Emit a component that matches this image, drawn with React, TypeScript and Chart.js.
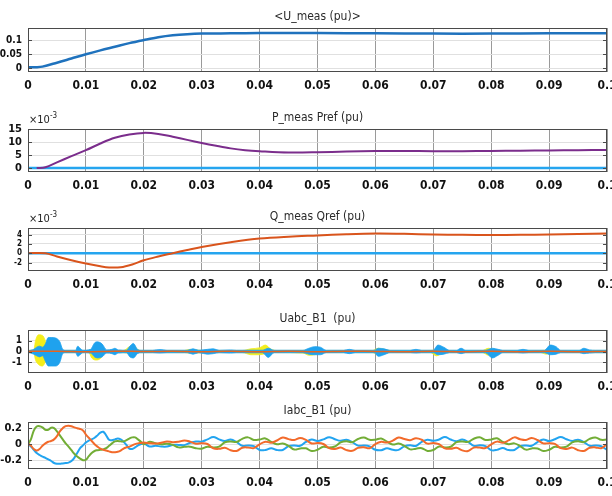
import React, { useEffect, useRef } from "react";
import { Chart, registerables } from "chart.js";

Chart.register(...registerables);

const FONT = "'Liberation Sans Narrow', 'Arial Narrow', 'DejaVu Sans Condensed', sans-serif";

// ---- shared x axis ----
const xTicks = [0, 0.01, 0.02, 0.03, 0.04, 0.05, 0.06, 0.07, 0.08, 0.09, 0.1];
const xTickLabels = ["0", "0.01", "0.02", "0.03", "0.04", "0.05", "0.06", "0.07", "0.08", "0.09", "0.1"];

// ---- panel 1: <U_meas (pu)> ----
const tU = [0, 0.0015, 0.0025, 0.005, 0.0075, 0.01, 0.0125, 0.015, 0.0175, 0.02, 0.0225, 0.025, 0.0275, 0.03, 0.035, 0.04, 0.05, 0.06, 0.07, 0.08, 0.09, 0.1];
const uMeas = [0.003, 0.003, 0.005, 0.019, 0.034, 0.049, 0.063, 0.076, 0.089, 0.1, 0.11, 0.117, 0.121, 0.123, 0.124, 0.125, 0.125, 0.124, 0.123, 0.123, 0.124, 0.124];
const y1Ticks = [0, 0.05, 0.1];
const y1Labels = ["0", "0.05", "0.1"];

// ---- panel 2: P_meas Pref (pu), x10^-3 ----
const tP = [0.0015, 0.003, 0.005, 0.0075, 0.01, 0.0125, 0.015, 0.0175, 0.02, 0.0225, 0.025, 0.0275, 0.03, 0.0325, 0.035, 0.0375, 0.04, 0.045, 0.05, 0.055, 0.06, 0.065, 0.07, 0.075, 0.08, 0.085, 0.09, 0.095, 0.1];
const pMeas = [0, 0.3, 2.2, 4.6, 6.9, 9.5, 11.7, 13.0, 13.6, 13.2, 12.1, 10.9, 9.7, 8.6, 7.6, 6.9, 6.5, 6.0, 6.1, 6.4, 6.6, 6.6, 6.5, 6.5, 6.6, 6.7, 6.8, 6.9, 7.0];
const tRef = [0, 0.1];
const pRef = [0, 0];
const y2Ticks = [0, 5, 10, 15];
const y2Labels = ["0", "5", "10", "15"];

// ---- panel 3: Q_meas Qref (pu), x10^-3 ----
const tQ = [0, 0.003, 0.005, 0.0075, 0.01, 0.0125, 0.014, 0.016, 0.018, 0.02, 0.0225, 0.025, 0.0275, 0.03, 0.035, 0.04, 0.045, 0.05, 0.055, 0.06, 0.065, 0.07, 0.075, 0.08, 0.085, 0.09, 0.095, 0.1];
const qMeas = [0, 0, -0.7, -1.5, -2.2, -2.8, -3.05, -3.0, -2.4, -1.5, -0.7, 0, 0.7, 1.35, 2.35, 3.15, 3.55, 3.8, 4.05, 4.2, 4.15, 4.0, 3.95, 3.9, 3.95, 4.0, 4.1, 4.25];
const qRef = [0, 0];
const y3Ticks = [-2, 0, 2, 4];
const y3Labels = ["-2", "0", "2", "4"];

// ---- panel 4: Uabc_B1 (pu) : envelopes of fast oscillations ----
const tYel = [0, 0.001, 0.0013, 0.0018, 0.0025, 0.003, 0.0035, 0.004, 0.0045, 0.005, 0.0055, 0.0105, 0.011, 0.0118, 0.0126, 0.0132, 0.0165, 0.0175, 0.0182, 0.0189, 0.0195, 0.027, 0.028, 0.029, 0.03, 0.037, 0.0385, 0.04, 0.041, 0.042, 0.043, 0.0475, 0.0485, 0.0495, 0.0505, 0.0595, 0.0605, 0.0615, 0.0625, 0.0695, 0.0705, 0.0715, 0.0725, 0.0785, 0.0795, 0.0805, 0.0815, 0.0885, 0.0895, 0.0905, 0.1];
const yelUp = [0.1, 0.15, 1.0, 1.55, 1.5, 1.0, 0.3, 0.3, 0.2, 0.12, 0.1, 0.1, 0.2, 0.25, 0.15, 0.1, 0.1, 0.45, 0.6, 0.2, 0.1, 0.1, 0.2, 0.15, 0.1, 0.1, 0.25, 0.35, 0.6, 0.2, 0.1, 0.1, 0.15, 0.12, 0.1, 0.1, 0.3, 0.2, 0.1, 0.1, 0.15, 0.12, 0.1, 0.1, 0.3, 0.15, 0.1, 0.1, 0.12, 0.1, 0.1];
const yelLo = [-0.1, -0.15, -0.8, -1.2, -1.35, -1.0, -0.6, -1.1, -0.9, -0.3, -0.1, -0.1, -0.6, -0.8, -0.6, -0.1, -0.1, -0.2, -0.25, -0.1, -0.1, -0.1, -0.15, -0.15, -0.1, -0.1, -0.3, -0.3, -0.2, -0.1, -0.1, -0.15, -0.35, -0.3, -0.1, -0.1, -0.3, -0.2, -0.1, -0.1, -0.4, -0.2, -0.1, -0.1, -0.35, -0.2, -0.1, -0.1, -0.25, -0.1, -0.1];

const tBlu = [0, 0.001, 0.0015, 0.002, 0.0025, 0.003, 0.0035, 0.004, 0.0048, 0.0055, 0.006, 0.0065, 0.0082, 0.0086, 0.009, 0.0095, 0.0108, 0.0115, 0.012, 0.0128, 0.0136, 0.0145, 0.015, 0.0156, 0.017, 0.0176, 0.0182, 0.0189, 0.0195, 0.0215, 0.0228, 0.024, 0.0275, 0.0285, 0.0295, 0.031, 0.032, 0.033, 0.035, 0.036, 0.0405, 0.0415, 0.0425, 0.0475, 0.0485, 0.0495, 0.0505, 0.0515, 0.0545, 0.0555, 0.0565, 0.0598, 0.0605, 0.0615, 0.0625, 0.066, 0.067, 0.068, 0.07, 0.0708, 0.0718, 0.0728, 0.074, 0.0748, 0.0756, 0.079, 0.0802, 0.0812, 0.082, 0.0845, 0.0855, 0.0865, 0.0892, 0.0902, 0.0912, 0.092, 0.0952, 0.096, 0.097, 0.098, 0.1];
const bluUp = [0.08, 0.2, 0.4, 0.5, 0.4, 0.7, 1.3, 1.3, 1.25, 0.9, 0.2, 0.12, 0.12, 0.5, 0.3, 0.12, 0.2, 0.8, 0.9, 0.7, 0.15, 0.2, 0.3, 0.15, 0.12, 0.5, 0.75, 0.2, 0.12, 0.12, 0.18, 0.12, 0.12, 0.25, 0.12, 0.2, 0.25, 0.12, 0.15, 0.12, 0.12, 0.3, 0.12, 0.12, 0.3, 0.45, 0.4, 0.12, 0.12, 0.2, 0.12, 0.12, 0.3, 0.25, 0.12, 0.12, 0.2, 0.12, 0.12, 0.6, 0.4, 0.12, 0.12, 0.3, 0.12, 0.12, 0.3, 0.2, 0.12, 0.12, 0.2, 0.12, 0.12, 0.6, 0.45, 0.12, 0.12, 0.3, 0.15, 0.12, 0.12];
const bluLo = [-0.08, -0.25, -0.4, -0.5, -0.4, -0.9, -1.35, -1.35, -1.35, -1.0, -0.2, -0.12, -0.12, -0.45, -0.3, -0.12, -0.15, -0.5, -0.6, -0.5, -0.15, -0.2, -0.3, -0.15, -0.12, -0.5, -0.6, -0.2, -0.12, -0.12, -0.15, -0.12, -0.12, -0.25, -0.12, -0.25, -0.2, -0.12, -0.15, -0.12, -0.12, -0.55, -0.12, -0.12, -0.25, -0.3, -0.3, -0.12, -0.12, -0.2, -0.12, -0.12, -0.45, -0.3, -0.12, -0.12, -0.15, -0.12, -0.12, -0.3, -0.25, -0.12, -0.12, -0.2, -0.12, -0.12, -0.6, -0.35, -0.12, -0.12, -0.15, -0.12, -0.12, -0.3, -0.25, -0.12, -0.12, -0.2, -0.15, -0.12, -0.12];

const tOra = [0, 0.005, 0.01, 0.015, 0.02, 0.025, 0.03, 0.035, 0.04, 0.045, 0.05, 0.055, 0.06, 0.065, 0.07, 0.075, 0.08, 0.085, 0.09, 0.095, 0.1];
const oraV = [0.02, 0.03, -0.02, 0.03, 0.0, 0.02, -0.02, 0.02, -0.03, 0.02, -0.02, 0.03, 0.0, -0.02, 0.03, -0.02, 0.02, -0.03, 0.02, -0.02, 0.01];
const y4Ticks = [-1, 0, 1];
const y4Labels = ["-1", "0", "1"];

// ---- panel 5: Iabc_B1 (pu) ----
const tI = [0, 0.0005, 0.001, 0.0015, 0.002, 0.0025, 0.003, 0.0035, 0.004, 0.0045, 0.005, 0.0055, 0.006, 0.0065, 0.007, 0.0075, 0.008, 0.0085, 0.009, 0.0095, 0.01, 0.0105, 0.011, 0.0115, 0.012, 0.0125, 0.013, 0.0135, 0.014, 0.0145, 0.015, 0.0155, 0.016, 0.0165, 0.017, 0.0175, 0.018, 0.0185, 0.019, 0.0195, 0.02,
  0.021, 0.022, 0.023, 0.024, 0.025, 0.026, 0.027, 0.028, 0.029, 0.03, 0.031, 0.032, 0.033, 0.034, 0.035, 0.036, 0.037, 0.038, 0.039, 0.04,
  0.041, 0.042, 0.043, 0.044, 0.045, 0.046, 0.047, 0.048, 0.049, 0.05, 0.051, 0.052, 0.053, 0.054, 0.055, 0.056, 0.057, 0.058, 0.059, 0.06,
  0.061, 0.062, 0.063, 0.064, 0.065, 0.066, 0.067, 0.068, 0.069, 0.07, 0.071, 0.072, 0.073, 0.074, 0.075, 0.076, 0.077, 0.078, 0.079, 0.08,
  0.081, 0.082, 0.083, 0.084, 0.085, 0.086, 0.087, 0.088, 0.089, 0.09, 0.091, 0.092, 0.093, 0.094, 0.095, 0.096, 0.097, 0.098, 0.099, 0.1];
const iBlue = [0.0, -0.03, -0.07, -0.11, -0.135, -0.155, -0.17, -0.19, -0.21, -0.235, -0.245, -0.245, -0.24, -0.235, -0.23, -0.21, -0.17, -0.11, -0.05, -0.015, 0.02, 0.045, 0.06, 0.08, 0.11, 0.145, 0.155, 0.11, 0.055, 0.05, 0.06, 0.07, 0.06, 0.03, -0.01, -0.055, -0.06, -0.04, -0.015, 0.0, 0.01,
  -0.029, -0.02, -0.029, -0.029, -0.01, -0.009, -0.012, 0.017, 0.034, 0.032, 0.06,
  0.09, 0.06, 0.04, 0.057, 0.028, -0.02, -0.015, -0.025, -0.073, -0.073, -0.05, -0.073, -0.073, -0.025, -0.015, -0.02, 0.028, 0.057, 0.04, 0.06,
  0.088, 0.062, 0.042, 0.055, 0.025, -0.018, -0.017, -0.028, -0.07, -0.075, -0.052, -0.07, -0.071, -0.027, -0.013, -0.022, 0.03, 0.055, 0.042, 0.058,
  0.091, 0.058, 0.038, 0.058, 0.03, -0.021, -0.014, -0.024, -0.074, -0.071, -0.048, -0.074, -0.072, -0.024, -0.016, -0.019, 0.027, 0.058, 0.039, 0.061,
  0.089, 0.061, 0.041, 0.056, 0.027, -0.019, -0.016, -0.026, -0.072];
const iGreen = [0.0, 0.06, 0.17, 0.22, 0.225, 0.21, 0.18, 0.18, 0.205, 0.2, 0.16, 0.11, 0.06, 0.01, -0.03, -0.075, -0.12, -0.155, -0.18, -0.2, -0.195, -0.15, -0.11, -0.085, -0.075, -0.07, -0.065, -0.05, -0.02, 0.01, 0.035, 0.04, 0.035, 0.035, 0.05, 0.07, 0.085, 0.085, 0.06, 0.03, 0.0,
  0.029, 0.012, -0.001, 0.004, -0.009, -0.04, -0.033, -0.031, -0.051, -0.056, -0.032,
  -0.041, -0.031, 0.024, 0.035, 0.027, 0.067, 0.085, 0.053, 0.058, 0.072, 0.029, -0.002, 0.009, -0.022, -0.067, -0.054, -0.052, -0.086, -0.07, -0.032,
  -0.043, -0.029, 0.022, 0.037, 0.025, 0.065, 0.083, 0.055, 0.056, 0.07, 0.031, -0.004, 0.007, -0.02, -0.065, -0.056, -0.05, -0.084, -0.072, -0.03,
  -0.04, -0.032, 0.025, 0.034, 0.029, 0.068, 0.086, 0.052, 0.059, 0.073, 0.028, 0.0, 0.01, -0.023, -0.068, -0.053, -0.054, -0.085, -0.069, -0.033,
  -0.042, -0.03, 0.023, 0.036, 0.026, 0.066, 0.084, 0.054, 0.057];
const iOrange = [0.01, -0.02, -0.06, -0.08, -0.06, -0.02, 0.01, 0.03, 0.04, 0.06, 0.1, 0.16, 0.2, 0.225, 0.23, 0.225, 0.21, 0.2, 0.19, 0.17, 0.12, 0.08, 0.04, 0.0, -0.03, -0.055, -0.07, -0.08, -0.09, -0.1, -0.1, -0.095, -0.08, -0.055, -0.04, -0.03, -0.015, 0.0, 0.01, 0.015, 0.02,
  0.012, 0.008, 0.018, 0.034, 0.025, 0.031, 0.046, 0.032, 0.005, 0.011, 0.002,
  -0.051, -0.058, -0.044, -0.076, -0.085, -0.044, -0.041, -0.049, -0.001, 0.031, 0.019, 0.046, 0.084, 0.063, 0.052, 0.077, 0.053, 0.009, 0.014, 0.002,
  -0.049, -0.06, -0.042, -0.074, -0.083, -0.046, -0.039, -0.051, 0.001, 0.029, 0.021, 0.044, 0.082, 0.065, 0.05, 0.075, 0.055, 0.007, 0.016, 0.0,
  -0.052, -0.057, -0.045, -0.077, -0.086, -0.043, -0.042, -0.048, -0.002, 0.032, 0.018, 0.047, 0.085, 0.062, 0.053, 0.078, 0.052, 0.01, 0.013, 0.003,
  -0.05, -0.059, -0.043, -0.075, -0.084, -0.045, -0.04, -0.05, 0.0];
const y5Ticks = [-0.2, 0, 0.2];
const y5Labels = ["-0.2", "0", "0.2"];

// ---- helpers ----
function pts(t: number[], v: number[]) {
  return t.map((x, i) => ({ x, y: v[i] }));
}

const framePlugin = {
  id: "frame",
  afterDraw(chart: any, _args: any, opts: any) {
    const { ctx, chartArea: a } = chart;
    ctx.save();
    ctx.strokeStyle = "#4a4a4a";
    ctx.lineWidth = 1;
    ctx.strokeRect(Math.round(a.left) + 0.5, Math.round(a.top) + 0.5, Math.round(a.right - a.left) - 1, Math.round(a.bottom - a.top) - 1);
    const ys = chart.scales.y;
    ys.ticks.forEach((t: any) => {
      const py = Math.round(ys.getPixelForValue(t.value)) + 0.5;
      ctx.beginPath();
      ctx.moveTo(a.left, py);
      ctx.lineTo(a.left + 4, py);
      ctx.moveTo(a.right - 4, py);
      ctx.lineTo(a.right, py);
      ctx.stroke();
    });
    if (opts && opts.exponent) {
      ctx.fillStyle = "#222";
      ctx.textAlign = "left";
      ctx.textBaseline = "alphabetic";
      ctx.font = `11px ${FONT}`;
      ctx.fillText("×10", a.left + 1, a.top - 6);
      const w = ctx.measureText("×10").width;
      ctx.font = `8px ${FONT}`;
      ctx.fillText(opts.exponent, a.left + 1 + w, a.top - 11);
    }
    ctx.restore();
  },
};

type Spec = {
  top: number;
  height: number;
  title: string;
  yMin: number;
  yMax: number;
  yTicks: number[];
  yLabels: string[];
  yFont?: number;
  exponent?: string;
  datasets: any[];
};

function line(t: number[], v: number[], color: string, width: number, extra: any = {}) {
  return {
    data: pts(t, v),
    borderColor: color,
    backgroundColor: color,
    borderWidth: width,
    pointRadius: 0,
    tension: 0.35,
    fill: false,
    ...extra,
  };
}

function buildSpecs(): Spec[] {
  return [
    {
      top: 2, height: 94, title: "<U_meas (pu)>", yMin: -0.0143, yMax: 0.143,
      yTicks: y1Ticks, yLabels: y1Labels, yFont: 10,
      datasets: [line(tU, uMeas, "#1f72bd", 2.5)],
    },
    {
      top: 103, height: 93, title: "P_meas Pref (pu)", yMin: -1.54, yMax: 15.1,
      yTicks: y2Ticks, yLabels: y2Labels, yFont: 11, exponent: "-3",
      datasets: [line(tP, pMeas, "#7b2d8c", 2), line(tRef, pRef, "#25a5ef", 2.5)],
    },
    {
      top: 202, height: 93, title: "Q_meas Qref (pu)", yMin: -3.8, yMax: 5.4,
      yTicks: y3Ticks, yLabels: y3Labels, yFont: 8, exponent: "-3",
      datasets: [line(tQ, qMeas, "#d9541c", 2), line(tRef, qRef, "#25a5ef", 2.5)],
    },
    {
      top: 304, height: 93, title: "Uabc_B1  (pu)", yMin: -2, yMax: 2,
      yTicks: y4Ticks, yLabels: y4Labels, yFont: 10,
      datasets: [
        line(tOra, oraV, "#e8641e", 1.5),
        line(tBlu, bluUp, "#1fa2ee", 0.8, { cubicInterpolationMode: "monotone" }),
        line(tBlu, bluLo, "#1fa2ee", 0.8, { cubicInterpolationMode: "monotone", fill: "-1", backgroundColor: "#1fa2ee" }),
        line(tYel, yelUp, "#f4ee1c", 0.8, { cubicInterpolationMode: "monotone" }),
        line(tYel, yelLo, "#f4ee1c", 0.8, { cubicInterpolationMode: "monotone", fill: "-1", backgroundColor: "#f4ee1c" }),
      ],
    },
    {
      top: 396, height: 97, title: "Iabc_B1 (pu)", yMin: -0.31, yMax: 0.277,
      yTicks: y5Ticks, yLabels: y5Labels, yFont: 11,
      datasets: [
        line(tI, iOrange, "#f26a2b", 2, { tension: 0.4 }),
        line(tI, iGreen, "#72ad36", 2, { tension: 0.4 }),
        line(tI, iBlue, "#22a4f0", 2, { tension: 0.4 }),
      ],
    },
  ];
}

function makeChart(canvas: HTMLCanvasElement, s: Spec) {
  const tickFont = { family: FONT, size: 12, weight: "bold" as const };
  return new Chart(canvas, {
    type: "line",
    data: { datasets: s.datasets },
    options: {
      responsive: false,
      animation: false,
      devicePixelRatio: 1,
      layout: { padding: { top: 4.6, right: 5, left: 0, bottom: 0 } },
      plugins: {
        legend: { display: false },
        tooltip: { enabled: false },
        title: {
          display: true,
          text: s.title,
          fullSize: false,
          color: "#2a2a2a",
          font: { family: FONT, size: 12, weight: "normal" },
          padding: { top: 3, bottom: 4 },
        },
        // @ts-ignore
        frame: { exponent: s.exponent },
      },
      scales: {
        x: {
          type: "linear",
          min: 0,
          max: 0.1,
          afterBuildTicks: (sc: any) => {
            sc.ticks = xTicks.map((v) => ({ value: v }));
          },
          afterFit: (sc: any) => {
            sc.height = 24;
            sc.paddingLeft = 0;
            sc.paddingRight = 0;
          },
          ticks: {
            autoSkip: false,
            maxRotation: 0,
            minRotation: 0,
            padding: 7,
            color: "#111",
            font: tickFont,
            callback: (_v: any, i: number) => xTickLabels[i],
          },
          grid: { color: "#9a9a9a", drawTicks: false },
          border: { display: false },
        },
        y: {
          type: "linear",
          min: s.yMin,
          max: s.yMax,
          afterBuildTicks: (sc: any) => {
            sc.ticks = s.yTicks.map((v) => ({ value: v }));
          },
          afterFit: (sc: any) => {
            sc.width = 28;
            sc.paddingTop = 0;
            sc.paddingBottom = 0;
          },
          ticks: {
            autoSkip: false,
            padding: 6,
            color: "#111",
            font: { family: FONT, size: s.yFont || 11, weight: "bold" as const },
            callback: (_v: any, i: number) => s.yLabels[i],
          },
          grid: { color: "#e0e0e0", drawTicks: false },
          border: { display: false },
        },
      },
    } as any,
    plugins: [framePlugin as any],
  });
}

function Panel({ index }: { index: number }) {
  const ref = useRef<HTMLCanvasElement | null>(null);
  const spec = buildSpecs()[index];
  useEffect(() => {
    if (!ref.current) return;
    const c = makeChart(ref.current, buildSpecs()[index]);
    return () => c.destroy();
  }, [index]);
  return (
    <canvas
      ref={ref}
      width={612}
      height={spec.height}
      style={{ position: "absolute", left: 0, top: spec.top, width: 612, height: spec.height }}
    />
  );
}

export default function App() {
  return (
    <div style={{ position: "absolute", left: 0, top: 0, width: 612, height: 496, background: "#fff", overflow: "hidden" }}>
      {[0, 1, 2, 3, 4].map((i) => (
        <Panel key={i} index={i} />
      ))}
    </div>
  );
}
